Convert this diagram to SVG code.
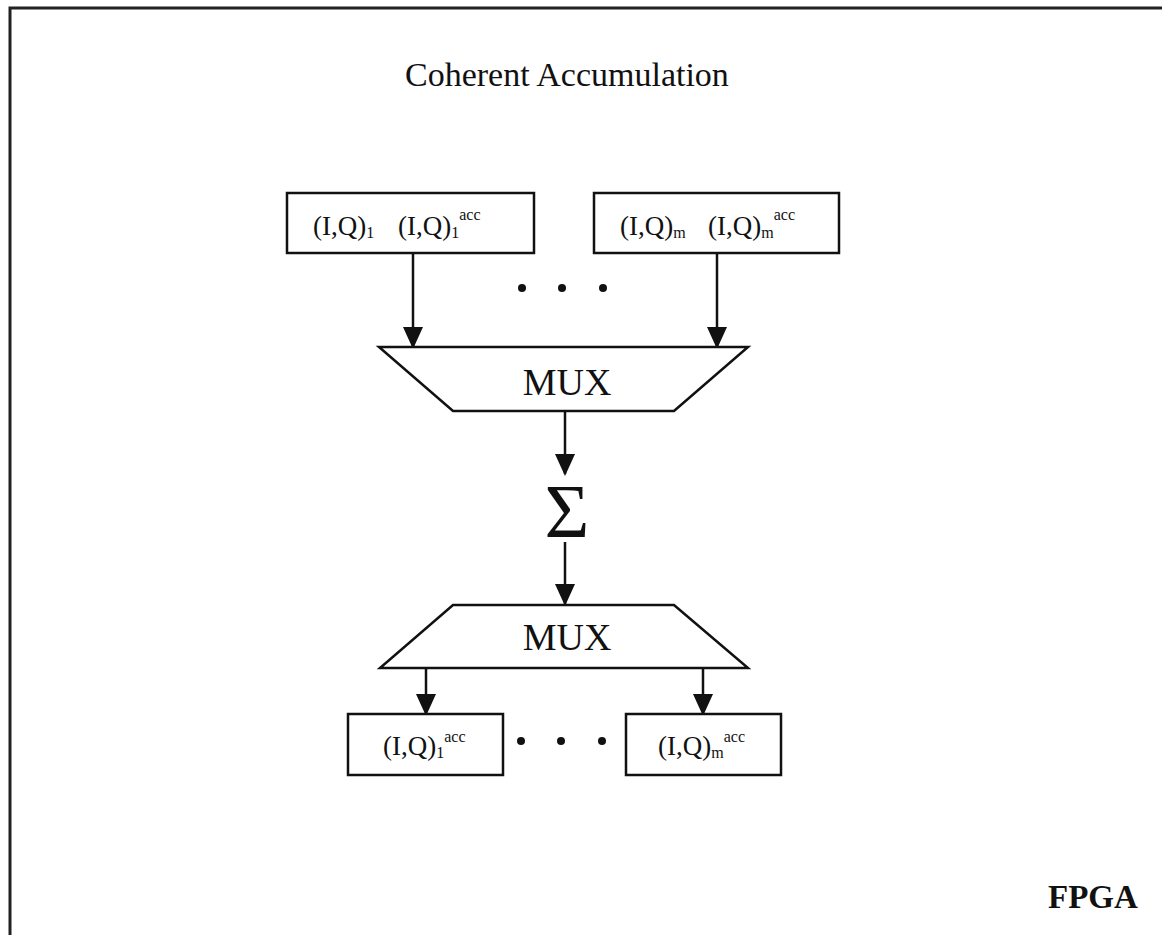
<svg xmlns="http://www.w3.org/2000/svg" width="1162" height="935" viewBox="0 0 1162 935">
  <style>
    .txt { font-family: "Liberation Serif", "Times New Roman", serif; fill: #111; }
    .box { fill: #fff; stroke: #111; stroke-width: 2.5; }
    .wire { stroke: #111; stroke-width: 2.5; fill: none; marker-end: url(#head); }
    .dot { fill: #111; }
    .lbl { font-size: 27px; }
    .sub { font-size: 16px; }
  </style>
  <defs>
    <marker id="head" viewBox="0 0 22 20" refX="20" refY="10" markerWidth="22" markerHeight="20" markerUnits="userSpaceOnUse" orient="auto">
      <path d="M0,0 L22,10 L0,20 z" fill="#111"/>
    </marker>
  </defs>

  <rect width="1162" height="935" fill="#fff"/>

  <!-- outer FPGA frame, open to the right and bottom -->
  <path d="M10,940 V8 H1170" fill="none" stroke="#222" stroke-width="3"/>

  <text class="txt" x="405" y="86" font-size="34">Coherent Accumulation</text>

  <g id="connectors">
    <line class="wire" x1="413" y1="253" x2="413" y2="347"/>
    <line class="wire" x1="717" y1="253" x2="717" y2="347"/>
    <line class="wire" x1="565" y1="411" x2="565" y2="474"/>
    <line class="wire" x1="565" y1="542" x2="565" y2="604"/>
    <line class="wire" x1="426" y1="668" x2="426" y2="714"/>
    <line class="wire" x1="703" y1="668" x2="703" y2="714"/>
  </g>

  <g id="box-iq1">
    <rect class="box" x="287" y="193" width="247" height="60"/>
    <text class="txt lbl" x="313" y="235">(I,Q)<tspan class="sub" dy="3">1</tspan></text>
    <text class="txt lbl" x="398" y="235">(I,Q)<tspan class="sub" dy="3">1</tspan><tspan class="sub" dy="-18">acc</tspan></text>
  </g>

  <g id="box-iqm">
    <rect class="box" x="594" y="193" width="245" height="60"/>
    <text class="txt lbl" x="620" y="235">(I,Q)<tspan class="sub" dy="3">m</tspan></text>
    <text class="txt lbl" x="708" y="235">(I,Q)<tspan class="sub" dy="3">m</tspan><tspan class="sub" dy="-18">acc</tspan></text>
  </g>

  <g id="dots-top">
    <circle class="dot" cx="522" cy="288" r="4"/>
    <circle class="dot" cx="562" cy="288" r="4"/>
    <circle class="dot" cx="603" cy="288" r="4"/>
  </g>

  <g id="mux-in">
    <polygon class="box" points="379,347 748,347 674,411 453,411"/>
    <text class="txt" x="567" y="395" font-size="38" text-anchor="middle">MUX</text>
  </g>

  <g id="sum">
    <text class="txt" x="567" y="537" font-size="77" text-anchor="middle">Σ</text>
  </g>

  <g id="mux-out">
    <polygon class="box" points="453,605 674,605 748,668 380,668"/>
    <text class="txt" x="567" y="650" font-size="38" text-anchor="middle">MUX</text>
  </g>

  <g id="acc-1">
    <rect class="box" x="348" y="714" width="155" height="61"/>
    <text class="txt lbl" x="383" y="755">(I,Q)<tspan class="sub" dy="3">1</tspan><tspan class="sub" dy="-16">acc</tspan></text>
  </g>

  <g id="dots-bottom">
    <circle class="dot" cx="521" cy="741" r="4"/>
    <circle class="dot" cx="561" cy="741" r="4"/>
    <circle class="dot" cx="602" cy="741" r="4"/>
  </g>

  <g id="acc-m">
    <rect class="box" x="626" y="714" width="155" height="61"/>
    <text class="txt lbl" x="658" y="755">(I,Q)<tspan class="sub" dy="3">m</tspan><tspan class="sub" dy="-16">acc</tspan></text>
  </g>

  <text class="txt" x="1048" y="908" font-size="33" font-weight="bold">FPGA</text>
</svg>
